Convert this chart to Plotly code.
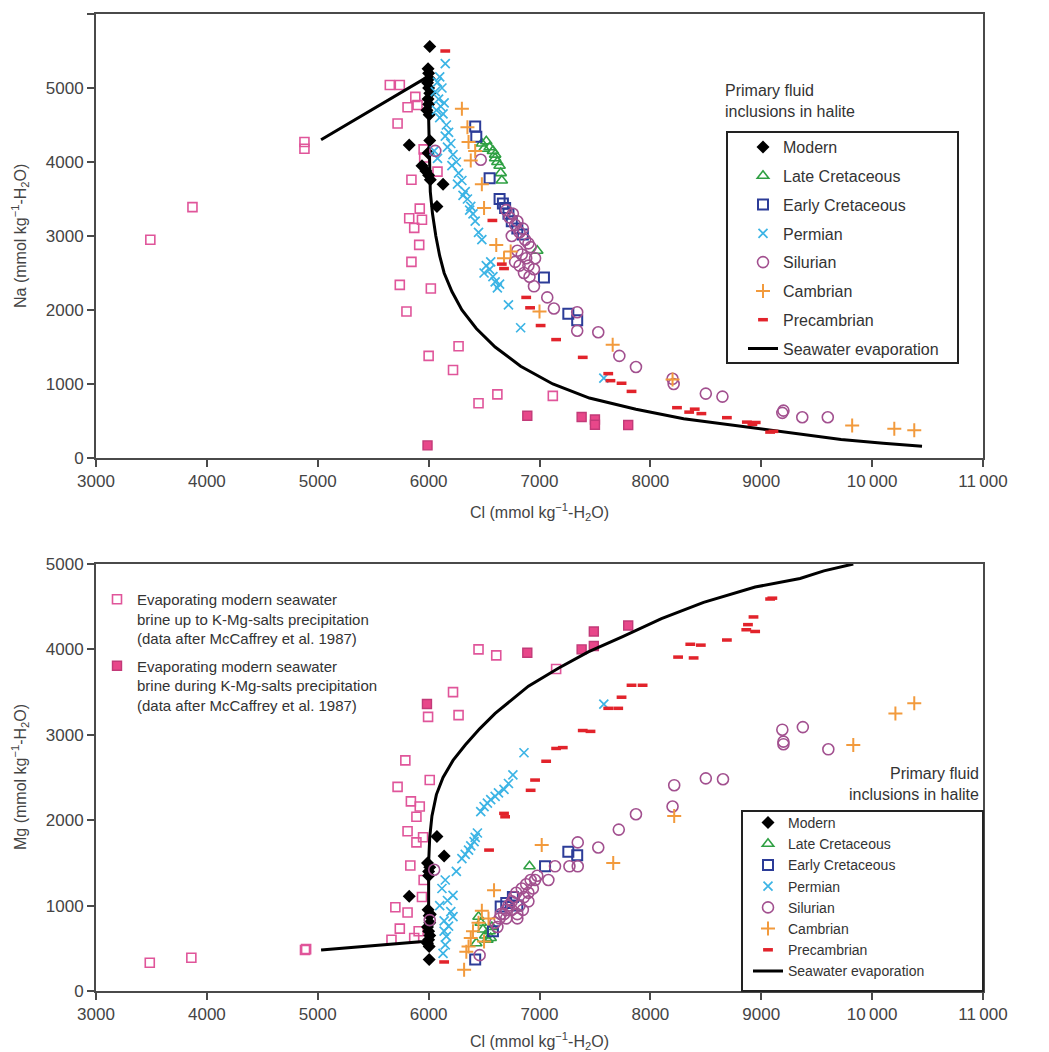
import plotly.graph_objects as go

# ---------- data: upper panel (Cl vs Na) ----------
na_modern_cl = [6010, 5995, 6000, 6005, 5990, 6000, 6010, 5995, 6000, 5985, 6005, 5825, 6010, 5995, 5940, 5975, 6000, 6015, 6130, 6075]
na_modern = [5560, 5260, 5200, 5130, 5070, 5000, 4930, 4850, 4780, 4700, 4640, 4230, 4290, 4120, 3950, 3880, 3820, 3760, 3700, 3400]

na_latecret_cl = [6480, 6520, 6550, 6580, 6600, 6620, 6640, 6650, 6660, 6600, 6500, 6980]
na_latecret = [4250, 4280, 4200, 4150, 4100, 4000, 3950, 3850, 3750, 4050, 4180, 2800]

na_earlycret_cl = [6420, 6430, 6550, 6640, 6670, 6690, 6720, 6750, 6800, 6850, 7040, 7260, 7340]
na_earlycret = [4480, 4340, 3780, 3500, 3440, 3380, 3300, 3200, 3100, 3020, 2440, 1950, 1860]

na_permian_cl = [6150, 6100, 6080, 6120, 6060, 6090, 6140, 6110, 6070, 6130, 6100, 6160, 6180, 6150, 6200, 6170,
                 6220, 6250, 6210, 6270, 6300, 6260, 6330, 6350, 6310, 6380, 6400, 6370, 6420, 6450, 6480, 6520,
                 6550, 6580, 6600, 6620, 6500, 6560, 6640, 6720, 6830, 7580, 6050, 6080]
na_permian = [5330, 5150, 5080, 5000, 4950, 4850, 4800, 4750, 4700, 4650, 4600, 4500, 4400, 4350, 4250, 4200,
              4100, 4000, 3950, 3850, 3750, 3700, 3600, 3500, 3550, 3400, 3300, 3350, 3200, 3050, 2950, 2600,
              2550, 2450, 2380, 2300, 2500, 2650, 2350, 2070, 1760, 1080, 4150, 4050]

na_silurian_cl = [6060, 6470, 6700, 6730, 6760, 6780, 6800, 6820, 6850, 6870, 6900, 6920, 6750, 6800, 6840, 6880,
                  6900, 6950, 6780, 6820, 6860, 6910, 6960, 6950, 7070, 7130, 7340, 7340, 7530, 7720, 7870, 8200,
                  8210, 8500, 8650, 9190, 9200, 9370, 9600]
na_silurian = [4150, 4030, 3350, 3250, 3300, 3150, 3200, 3050, 3100, 2950, 2900, 2850, 3000, 2800, 2750, 2700,
               2600, 2550, 2650, 2600, 2500, 2450, 2700, 2320, 2170, 2020, 1970, 1720, 1700, 1380, 1230, 1070,
               1000, 870, 830, 610, 640, 550, 550]

na_cambrian_cl = [6300, 6350, 6360, 6380, 6420, 6480, 6500, 6610, 6740, 7000, 7660, 8200, 9820, 10200, 10380, 6680]
na_cambrian = [4720, 4470, 4270, 4020, 4150, 3700, 3380, 2880, 2790, 1980, 1530, 1060, 440, 395, 375, 2700]

na_precamb_cl = [6150, 6575, 6660, 6680, 6880, 6915, 7010, 7150, 7390, 7620, 7640, 7740, 7830, 8240, 8350, 8400,
                 8460, 8690, 8870, 8920, 8950, 9080, 9110]
na_precamb = [5500, 3210, 2620, 2560, 2170, 2030, 1790, 1600, 1360, 1140, 1045, 1010, 900, 680, 620, 660,
              600, 545, 485, 455, 480, 350, 360]

na_pink_open_cl = [3490, 3870, 4880, 4880, 5650, 5740, 5720, 5810, 5880, 5900, 5955, 6080, 5845, 5825, 5920, 5940,
                   5870, 5915, 5845, 5740, 6020, 5800, 6270, 6000, 6220, 6450, 6620, 7120, 5960]
na_pink_open = [2950, 3390, 4270, 4180, 5040, 5040, 4520, 4740, 4880, 4770, 4170, 3870, 3760, 3240, 3370, 3220,
                3110, 2880, 2650, 2340, 2290, 1980, 1510, 1380, 1190, 740, 860, 840, 4060]

na_pink_fill_cl = [5990, 6890, 7380, 7500, 7500, 7800]
na_pink_fill = [170, 570, 555, 520, 450, 445]

na_sea_cl = [5030, 5990, 6000, 6005, 6015, 6035, 6065, 6100, 6140, 6210, 6300, 6430, 6600, 6830, 7120, 7450,
             7870, 8300, 8790, 9250, 9720, 10100, 10450]
na_sea = [4300, 5150, 4600, 4000, 3600, 3300, 3000, 2730, 2500, 2250, 2000, 1750, 1500, 1240, 1000, 810,
          660, 530, 430, 340, 250, 200, 160]

# ---------- data: lower panel (Cl vs Mg) ----------
mg_modern_cl = [6005, 5825, 6075, 6140, 5990, 6010, 6000, 5995, 6005, 6010, 5990, 6000, 6010, 6000, 5990, 6005, 6015, 6000]
mg_modern = [370, 1110, 1810, 1580, 1500, 1450, 1400, 950, 880, 800, 750, 700, 650, 600, 560, 520, 900, 1350]

mg_latecret_cl = [6910, 6450, 6470, 6490, 6510, 6530, 6550, 6570, 6430, 6560]
mg_latecret = [1460, 870, 800, 720, 650, 600, 700, 750, 560, 620]

mg_earlycret_cl = [6420, 6580, 6650, 6700, 6760, 6800, 7050, 7260, 7340]
mg_earlycret = [370, 700, 990, 1030, 1100, 1000, 1460, 1630, 1590]

mg_permian_cl = [6130, 6150, 6160, 6140, 6180, 6220, 6140, 6200, 6100, 6170, 6220, 6120, 6150, 6300, 6330, 6360,
                 6380, 6410, 6440, 6420, 6470, 6500, 6530, 6560, 6600, 6630, 6680, 6720, 6760, 6860, 7580, 6250]
mg_permian = [440, 540, 640, 700, 760, 870, 820, 930, 1000, 1060, 1120, 1200, 1300, 1550, 1600, 1650,
              1700, 1750, 1850, 1800, 2100, 2160, 2200, 2240, 2280, 2320, 2360, 2430, 2530, 2790, 3360, 1400]

mg_silurian_cl = [6460, 6050, 6010, 6600, 6640, 6680, 6700, 6720, 6750, 6770, 6790, 6800, 6820, 6840, 6860, 6880,
                  6900, 6920, 6940, 6960, 6980, 6700, 6750, 6800, 6850, 6900, 6650, 6620, 7080, 7140, 7270, 7345,
                  7345, 7530, 7715, 7870, 8200, 8215, 8500, 8655, 9190, 9200, 9200, 9375, 9605]
mg_silurian = [420, 1420, 830, 800, 850, 900, 950, 1000, 1050, 1100, 1150, 900, 1000, 1200, 1100, 1250,
               1150, 1300, 1200, 1300, 1350, 850, 950, 850, 950, 1050, 900, 750, 1300, 1460, 1460, 1460,
               1740, 1680, 1890, 2070, 2160, 2410, 2490, 2480, 3060, 2920, 2890, 3090, 2830]

mg_cambrian_cl = [6320, 6340, 6360, 6380, 6400, 6480, 6590, 6450, 6540, 7020, 7665, 8215, 9830, 10210, 10380, 6500]
mg_cambrian = [250, 460, 520, 620, 700, 940, 1180, 800, 850, 1710, 1500, 2050, 2880, 3250, 3370, 580]

mg_precamb_cl = [6140, 6545, 6680, 6690, 6920, 6960, 7060, 7150, 7210, 7390, 7460, 7620, 7710, 7740, 7830, 7930,
                 8250, 8360, 8390, 8455, 8690, 8865, 8880, 8930, 8945, 9080, 9100]
mg_precamb = [340, 1650, 2080, 2040, 2350, 2470, 2690, 2840, 2850, 3050, 3040, 3310, 3310, 3440, 3580, 3580,
              3910, 4060, 3900, 4050, 4110, 4230, 4290, 4380, 4210, 4590, 4600]

mg_pink_open_cl = [3485, 3860, 4885, 4895, 5665, 5740, 5700, 5810, 5870, 5910, 5940, 5955, 5835, 5810, 5890, 5950,
                   5890, 5920, 5840, 5720, 5790, 6010, 5995, 6270, 6220, 6450, 6610, 7150]
mg_pink_open = [330, 390, 480, 490, 600, 730, 980, 920, 620, 700, 1100, 1300, 1470, 1870, 1740, 1800,
                2040, 2160, 2220, 2390, 2700, 2470, 3210, 3230, 3500, 4000, 3930, 3770]

mg_pink_fill_cl = [5985, 6890, 7380, 7490, 7490, 7800]
mg_pink_fill = [3360, 3960, 4000, 4040, 4210, 4280]

mg_sea_cl = [5030, 5950, 6000, 6000, 6010, 6030, 6070, 6130, 6220, 6330, 6460, 6600, 6760, 6900, 7170, 7440,
             7750, 8100, 8480, 8945, 9350, 9565, 9830]
mg_sea = [480, 580, 620, 1500, 1800, 2050, 2300, 2500, 2700, 2880, 3070, 3250, 3420, 3570, 3780, 3970,
          4150, 4360, 4550, 4730, 4830, 4920, 5000]

x_ticks = [3000, 4000, 5000, 6000, 7000, 8000, 9000, 10000, 11000]
x_ticktext = ["3000", "4000", "5000", "6000", "7000", "8000", "9000", "10\u2009000", "11\u2009000"]

FONT = "Arial, Liberation Sans, sans-serif"
PINK = "#e0559a"

series = [
    ("Modern", dict(symbol="diamond", size=10, color="black"),
     (na_modern_cl, na_modern), (mg_modern_cl, mg_modern)),
    ("Late Cretaceous", dict(symbol="triangle-up-open", size=10, color="#2fa043", line=dict(width=1.6, color="#2fa043")),
     (na_latecret_cl, na_latecret), (mg_latecret_cl, mg_latecret)),
    ("Early Cretaceous", dict(symbol="square-open", size=10, color="#2c3c98", line=dict(width=2, color="#2c3c98")),
     (na_earlycret_cl, na_earlycret), (mg_earlycret_cl, mg_earlycret)),
    ("Permian", dict(symbol="x-thin", size=9, color="#3cb4e5", line=dict(width=1.7, color="#3cb4e5")),
     (na_permian_cl, na_permian), (mg_permian_cl, mg_permian)),
    ("Silurian", dict(symbol="circle-open", size=11, color="#a2508f", line=dict(width=1.6, color="#a2508f")),
     (na_silurian_cl, na_silurian), (mg_silurian_cl, mg_silurian)),
    ("Cambrian", dict(symbol="cross-thin", size=10, color="#f29a3c", line=dict(width=2, color="#f29a3c")),
     (na_cambrian_cl, na_cambrian), (mg_cambrian_cl, mg_cambrian)),
    ("Precambrian", dict(symbol="line-ew", size=7, color="#e2232b", line=dict(width=3.5, color="#e2232b")),
     (na_precamb_cl, na_precamb), (mg_precamb_cl, mg_precamb)),
]

fig = go.Figure()

# pink brine squares (drawn first, underneath)
pink_open = dict(symbol="square-open", size=9, color=PINK, line=dict(width=1.6, color=PINK))
pink_fill = dict(symbol="square", size=9, color="#e8478a", line=dict(width=1.4, color="#c23a78"))
fig.add_trace(go.Scatter(x=na_pink_open_cl, y=na_pink_open, mode="markers", marker=pink_open,
                         showlegend=False, xaxis="x", yaxis="y"))
fig.add_trace(go.Scatter(x=na_pink_fill_cl, y=na_pink_fill, mode="markers", marker=pink_fill,
                         showlegend=False, xaxis="x", yaxis="y"))
fig.add_trace(go.Scatter(x=mg_pink_open_cl, y=mg_pink_open, mode="markers", marker=pink_open,
                         name="Evaporating modern seawater<br>brine up to K-Mg-salts precipitation<br>(data after McCaffrey et al. 1987)",
                         legend="legend2", legendgroup="p1", xaxis="x2", yaxis="y2"))
fig.add_trace(go.Scatter(x=mg_pink_fill_cl, y=mg_pink_fill, mode="markers", marker=pink_fill,
                         name="Evaporating modern seawater<br>brine during K-Mg-salts precipitation<br>(data after McCaffrey et al. 1987)",
                         legend="legend2", legendgroup="p2", xaxis="x2", yaxis="y2"))

# seawater evaporation paths
fig.add_trace(go.Scatter(x=na_sea_cl, y=na_sea, mode="lines", line=dict(color="black", width=3),
                         name="Seawater evaporation", legend="legend", legendgroup="g8", legendrank=8,
                         xaxis="x", yaxis="y"))
fig.add_trace(go.Scatter(x=mg_sea_cl, y=mg_sea, mode="lines", line=dict(color="black", width=3),
                         name="Seawater evaporation", legend="legend3", legendgroup="h8", legendrank=8,
                         xaxis="x2", yaxis="y2"))

for i, (name, mk, top, bot) in enumerate(series):
    fig.add_trace(go.Scatter(x=top[0], y=top[1], mode="markers", marker=mk, name=name,
                             legend="legend", legendgroup="g%d" % i, legendrank=i + 1,
                             xaxis="x", yaxis="y"))
    fig.add_trace(go.Scatter(x=bot[0], y=bot[1], mode="markers", marker=mk, name=name,
                             legend="legend3", legendgroup="h%d" % i, legendrank=i + 1,
                             xaxis="x2", yaxis="y2"))

# page pixels (the page body adds an 8 px offset): plot x 96..983, top panel y 14..458, bottom y 564..991
OFF = 8
PAGE_W, PAGE_H = 1049, 1052
L, R, T, B = 96, 983, 14, 991
pw, ph = R - L, B - T


def px(xp):
    return (xp - L) / pw


def py(yp):
    return (B - yp) / ph


axis_common = dict(showline=True, linecolor="#4a4a4a", linewidth=2, mirror=True, ticks="outside",
                   ticklen=7, tickwidth=1.5, tickcolor="#4a4a4a", showgrid=False, zeroline=False,
                   automargin=False, tickfont=dict(family=FONT, size=17, color="#444"))
cl_title = "Cl (mmol kg<sup>\u22121</sup>-H<sub>2</sub>O)"
tfont = dict(family=FONT, size=16, color="#444")

fig.update_layout(
    width=PAGE_W - OFF, height=PAGE_H - OFF,
    margin=dict(l=L - OFF, r=PAGE_W - R, t=T - OFF, b=PAGE_H - B),
    paper_bgcolor="white", plot_bgcolor="white",
    font=dict(family=FONT, color="#333"),
    xaxis=dict(axis_common, range=[3000, 11000], tickvals=x_ticks, ticktext=x_ticktext,
               domain=[0, 1], anchor="y", title=dict(text=cl_title, font=tfont, standoff=16)),
    yaxis=dict(axis_common, range=[0, 6000], dtick=1000, domain=[py(458), 1], anchor="x"),
    xaxis2=dict(axis_common, range=[3000, 11000], tickvals=x_ticks, ticktext=x_ticktext,
                domain=[0, 1], anchor="y2", title=dict(text=cl_title, font=tfont, standoff=14)),
    yaxis2=dict(axis_common, range=[0, 5000], dtick=1000, domain=[0, py(564)], anchor="x2"),
    legend=dict(x=px(743), y=py(130), xanchor="left", yanchor="top", bgcolor="rgba(0,0,0,0)",
                borderwidth=0, font=dict(family=FONT, size=16, color="#333"), tracegroupgap=5,
                traceorder="grouped"),
    legend2=dict(x=px(97), y=py(583), xanchor="left", yanchor="top", bgcolor="rgba(0,0,0,0)",
                 borderwidth=0, font=dict(family=FONT, size=15, color="#333"), tracegroupgap=5,
                 valign="top"),
    legend3=dict(x=px(748), y=py(807), xanchor="left", yanchor="top", bgcolor="rgba(0,0,0,0)",
                 borderwidth=0, font=dict(family=FONT, size=14, color="#333"), tracegroupgap=0,
                 traceorder="grouped"),
    shapes=[
        dict(type="rect", xref="paper", yref="paper", x0=px(727), x1=px(958), y0=py(363), y1=py(132),
             line=dict(color="#222", width=2), fillcolor="rgba(0,0,0,0)"),
        dict(type="rect", xref="paper", yref="paper", x0=px(742), x1=1, y0=0, y1=py(811),
             line=dict(color="#222", width=2), fillcolor="rgba(0,0,0,0)"),
    ],
    annotations=[
        dict(text="Na (mmol kg<sup>\u22121</sup>-H<sub>2</sub>O)", xref="paper", yref="paper",
             x=px(20), y=py(236), xanchor="center", yanchor="middle", textangle=-90,
             showarrow=False, font=tfont),
        dict(text="Mg (mmol kg<sup>\u22121</sup>-H<sub>2</sub>O)", xref="paper", yref="paper",
             x=px(20), y=py(777), xanchor="center", yanchor="middle", textangle=-90,
             showarrow=False, font=tfont),
        dict(text="Primary fluid<br>inclusions in halite", xref="paper", yref="paper", x=px(723), y=py(80),
             xanchor="left", yanchor="top", align="left", showarrow=False,
             font=dict(family=FONT, size=16, color="#333")),
        dict(text="Primary fluid<br>inclusions in halite", xref="paper", yref="paper", x=px(981), y=py(763),
             xanchor="right", yanchor="top", align="right", showarrow=False,
             font=dict(family=FONT, size=16, color="#333")),
    ],
)

fig.write_html("out.html")
